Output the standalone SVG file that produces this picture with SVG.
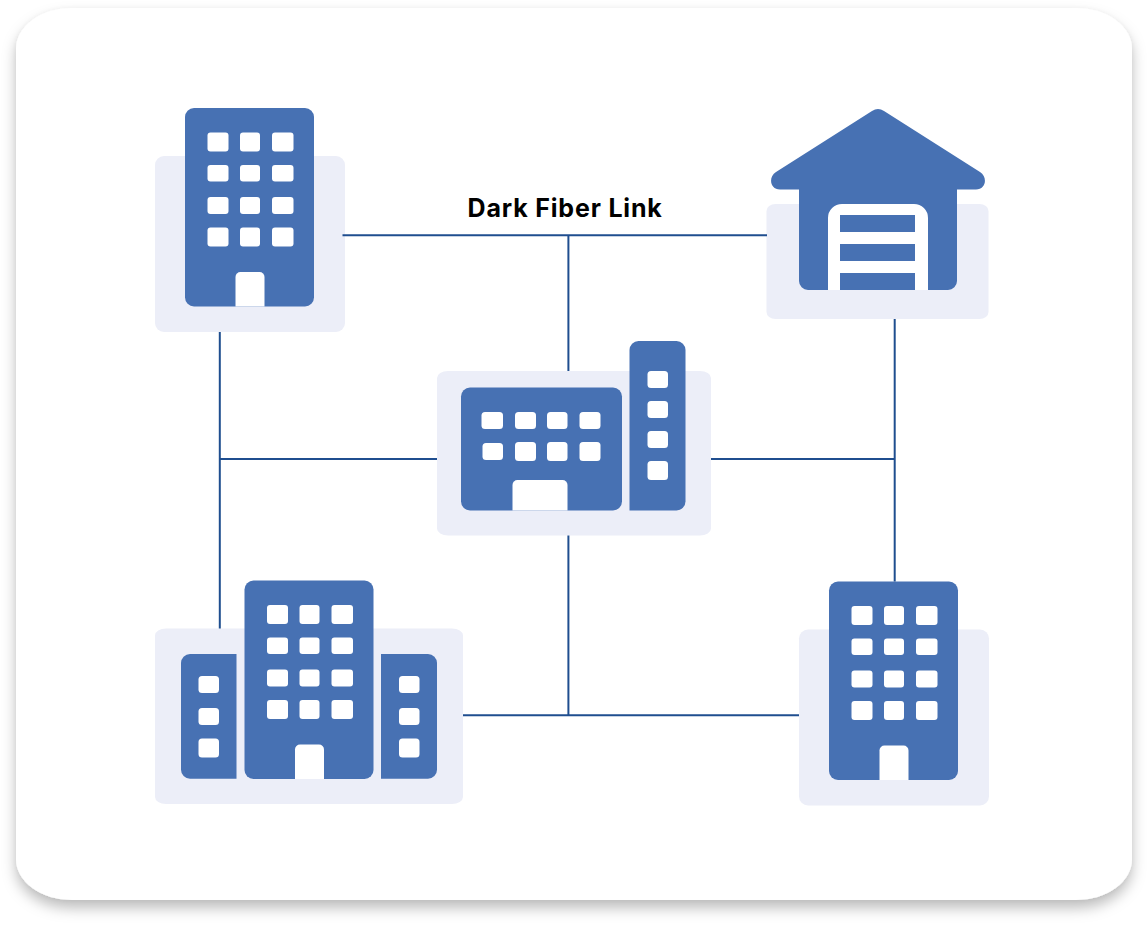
<svg xmlns="http://www.w3.org/2000/svg" width="1148" height="925" viewBox="0 0 1148 925">
<style>
.b{fill:#4771b3}.w{fill:#fff}.p{fill:#eceef8}
.c{stroke:#1f4e8f;stroke-width:2;fill:none}
.t{font-family:"Inter","Liberation Sans",sans-serif;font-weight:700;font-size:25px;letter-spacing:.83px;font-variation-settings:"opsz" 14;fill:#000}
</style>
<defs>
<filter id="sh" x="-5%" y="-5%" width="110%" height="112%">
<feDropShadow dx="0" dy="0" stdDeviation="3" flood-color="#000" flood-opacity="0.04"/>
<feDropShadow dx="0" dy="8" stdDeviation="7" flood-color="#000" flood-opacity="0.26"/>
</filter>
<g id="tower">
<rect class="b" x="0" y="0" width="129" height="198.5" rx="9"/>
<g class="w">
<rect x="22.5" y="24.5" width="21" height="19" rx="3"/><rect x="55" y="24.5" width="20" height="19" rx="3"/><rect x="87" y="24.5" width="21.5" height="19" rx="3"/>
<rect x="22.5" y="57" width="21" height="16.500" rx="3"/><rect x="55" y="57" width="20" height="16.500" rx="3"/><rect x="87" y="57" width="21.5" height="16.500" rx="3"/>
<rect x="22.5" y="89" width="21" height="17" rx="3"/><rect x="55" y="89" width="20" height="17" rx="3"/><rect x="87" y="89" width="21.5" height="17" rx="3"/>
<rect x="22.5" y="119.500" width="21" height="19" rx="3"/><rect x="55" y="119.500" width="20" height="19" rx="3"/><rect x="87" y="119.500" width="21.500" height="19" rx="3"/>
<path d="M50.500 198.500V169a5 5 0 0 1 5-5H74.500a5 5 0 0 1 5 5V198.500Z"/>
</g>
</g>
</defs>
<rect id="card" x="16" y="8" width="1116" height="892" rx="56" ry="41" fill="#fff" filter="url(#sh)"/>
<g id="label"><text class="t" x="467.500" y="217">Dark Fiber Link</text></g>
<g id="node-top-left">
<rect class="p" x="155" y="156" width="190" height="176" rx="9"/>
<use href="#tower" x="185" y="108"/>
</g>
<g id="node-warehouse">
<rect class="p" x="766.500" y="204" width="222" height="115" rx="9" ry="7"/>
<path class="b" d="M872 111Q878 107 884 111L980 172C988 177 986 189.500 976 189.500H957V281a9 9 0 0 1-9 9H808a9 9 0 0 1-9-9V189.500H780C770 189.500 768 177 776 172Z"/>
<path class="w" d="M828 290V218a14 14 0 0 1 14-14H914a14 14 0 0 1 14 14V290H915V273H840V290ZM840 215V232H915V215ZM840 244V261H915V244Z" fill-rule="evenodd"/>
</g>
<g id="node-center">
<rect class="p" x="437" y="371" width="274" height="164.500" rx="11" ry="7"/>
<rect class="b" x="461" y="387.500" width="161" height="123" rx="9"/>
<path class="b" d="M629.500 510.500V350a9 9 0 0 1 9-9H676.500a9 9 0 0 1 9 9V501.500a9 9 0 0 1-9 9Z"/>
<g class="w">
<rect x="481.500" y="412" width="21.500" height="17" rx="3.500"/><rect x="515" y="412" width="21" height="17" rx="3.500"/><rect x="547" y="412" width="20.500" height="17" rx="3.500"/><rect x="579.500" y="412" width="21" height="17" rx="3.500"/>
<rect x="482.500" y="443" width="20.500" height="17" rx="3.500"/><rect x="515" y="442" width="21" height="19" rx="3.500"/><rect x="547" y="442" width="20.500" height="19" rx="3.500"/><rect x="579.500" y="442" width="21" height="19" rx="3.500"/>
<path d="M512.500 510.500V485a5 5 0 0 1 5-5H562.500a5 5 0 0 1 5 5V510.500Z"/>
<rect x="647.500" y="371" width="20.500" height="17" rx="3.500"/><rect x="647.500" y="401" width="20.500" height="17" rx="3.500"/><rect x="647.500" y="431" width="20.500" height="17" rx="3.500"/><rect x="647.500" y="461" width="20.500" height="19" rx="3.500"/>
</g>
</g>
<g id="node-bottom-left">
<rect class="p" x="155" y="628.500" width="308" height="175.500" rx="11" ry="7"/>
<use href="#tower" x="244.500" y="580.500"/>
<path class="b" d="M236.500 778.700H190a9 9 0 0 1-9-9V663a9 9 0 0 1 9-9H236.500Z"/>
<path class="b" d="M381 654H428a9 9 0 0 1 9 9V769.700a9 9 0 0 1-9 9H381Z"/>
<g class="w">
<rect x="198.500" y="676" width="20.500" height="17" rx="3.500"/><rect x="198.500" y="708" width="20.500" height="17" rx="3.500"/><rect x="198.500" y="738.500" width="20.500" height="19" rx="3.500"/>
<rect x="399" y="676" width="20.500" height="17" rx="3.500"/><rect x="399" y="708" width="20.500" height="17" rx="3.500"/><rect x="399" y="738.500" width="20.500" height="19" rx="3.500"/>
</g>
</g>
<g id="node-bottom-right">
<rect class="p" x="799" y="629.500" width="190" height="176" rx="9"/>
<use href="#tower" x="829" y="581.500"/>
</g>
<g id="connectors" class="c">
<path d="M342.500 235.300H767"/>
<path d="M568.400 235.300V371"/>
<path d="M219.800 332V628.500"/>
<path d="M219.800 459H437"/>
<path d="M711 459H894.700"/>
<path d="M894.700 319V581.500"/>
<path d="M568.400 535.500V715"/>
<path d="M463 715.300H799"/>
</g>
</svg>
